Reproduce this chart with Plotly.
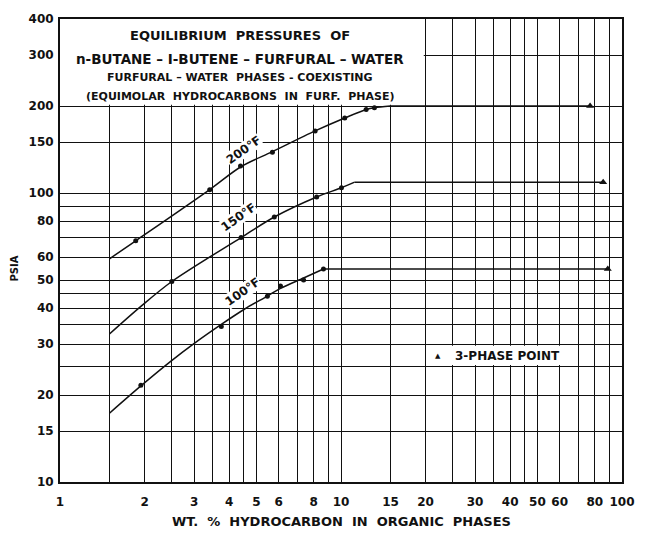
import numpy as np
import plotly.graph_objects as go

# Smoothed equilibrium curves (wt % hydrocarbon, psia), ending at the
# point where the furfural-water curve meets the 3-phase pressure.
curve_200_x = [1.5, 1.86, 3.41, 4.39, 5.70, 8.09, 10.31, 12.29, 13.15, 15.0]
curve_200_y = [59.2, 68.3, 102.7, 123.0, 139.0, 164.0, 181.8, 194.6, 197.4, 200.0]
curve_150_x = [1.5, 1.94, 2.5, 4.41, 5.79, 8.19, 10.04, 11.18]
curve_150_y = [32.5, 40.5, 49.4, 70.1, 82.6, 96.9, 104.3, 109.0]
curve_100_x = [1.5, 1.94, 2.47, 2.98, 3.75, 4.53, 5.47, 6.09, 7.36, 8.66]
curve_100_y = [17.3, 21.5, 26.1, 30.0, 35.1, 39.6, 44.0, 46.8, 50.8, 54.6]

# Measured points
pts_200_x = [1.86, 3.41, 4.39, 5.70, 8.09, 10.31, 12.29, 13.15]
pts_200_y = [68.3, 102.7, 123.9, 138.4, 164.0, 181.8, 194.6, 197.4]
pts_150_x = [2.5, 4.41, 5.79, 8.19, 10.04]
pts_150_y = [49.4, 70.1, 82.6, 96.9, 104.3]
pts_100_x = [1.94, 3.75, 5.47, 6.09, 7.36, 8.66]
pts_100_y = [21.6, 34.5, 43.9, 47.7, 50.0, 54.6]

# 3-phase points (200, 150, 100 °F)
tp_x = [77.0, 85.7, 89.0]
tp_y = [200.0, 109.0, 54.6]

curve_labels = ["200°F", "150°F", "100°F"]
label_x = [4.50, 4.33, 4.45]
label_y = [141, 82.5, 45.5]

x_tickvals = [1, 1.5, 2, 2.5, 3, 3.5, 4, 4.5, 5, 6, 7, 8, 9, 10, 15, 20, 25,
              30, 35, 40, 45, 50, 60, 70, 80, 90, 100]
x_ticktext = ["1", "", "2", "", "3", "", "4", "", "5", "6", "", "8", "", "10",
              "15", "20", "", "30", "", "40", "", "50", "60", "", "80", "", "100"]
y_tickvals = [10, 15, 20, 25, 30, 35, 40, 45, 50, 60, 70, 80, 90, 100, 150,
              200, 300, 400]
y_ticktext = ["10", "15", "20", "", "30", "", "40", "", "50", "60", "", "80",
              "", "100", "150", "200", "300", "400"]

W, H = 647, 533
ML, MR, MT, MB = 60, 18, 17, 51
FONT = "DejaVu Sans"
INK = "#111111"


def px(xp):
    return (xp - ML) / (W - ML - MR)


def py(yp):
    return (H - MB - yp) / (H - MT - MB)


def bold(size):
    return dict(family=FONT, size=size, color=INK, weight="bold")


fig = go.Figure()

curves = [(curve_200_x, curve_200_y, pts_200_x, pts_200_y),
          (curve_150_x, curve_150_y, pts_150_x, pts_150_y),
          (curve_100_x, curve_100_y, pts_100_x, pts_100_y)]
for i, (cx, cy, dx, dy) in enumerate(curves):
    fig.add_trace(go.Scatter(x=cx, y=cy, mode="lines",
                             line=dict(color=INK, width=1.5, shape="spline",
                                       smoothing=0.9),
                             hoverinfo="skip"))
    # flat 3-phase pressure line from the knee to the 3-phase point
    fig.add_trace(go.Scatter(x=[cx[-1], tp_x[i]], y=[cy[-1], tp_y[i]],
                             mode="lines", line=dict(color=INK, width=1.5),
                             hoverinfo="skip"))
    fig.add_trace(go.Scatter(x=dx, y=dy, mode="markers",
                             marker=dict(color=INK, size=5, symbol="circle"),
                             hoverinfo="x+y"))

fig.add_trace(go.Scatter(x=tp_x, y=tp_y, mode="markers",
                         marker=dict(color=INK, size=7, symbol="triangle-up"),
                         hoverinfo="x+y"))

# white panels for the title block and the key
fig.add_shape(type="rect", x0=1, x1=19.7, y0=202, y1=400, layer="between",
              fillcolor="white", line=dict(width=0))
fig.add_shape(type="rect", x0=20.4, x1=69.5, y0=25.4, y1=29.6, layer="between",
              fillcolor="white", line=dict(width=0))

annotations = []
for text, lx, ly in zip(curve_labels, label_x, label_y):
    annotations.append(dict(x=np.log10(lx), y=np.log10(ly), xref="x", yref="y",
                            text=text, showarrow=False, textangle=-35,
                            bgcolor="white", borderpad=0, font=bold(12)))

title_lines = [
    ("EQUILIBRIUM  PRESSURES  OF", 34, 13),
    ("n-BUTANE – I-BUTENE – FURFURAL – WATER", 57, 13.5),
    ("FURFURAL – WATER  PHASES - COEXISTING", 76, 11),
    ("(EQUIMOLAR  HYDROCARBONS  IN  FURF.  PHASE)", 95, 11),
]
for text, yp, size in title_lines:
    annotations.append(dict(x=px(242), y=py(yp), xref="paper", yref="paper",
                            xanchor="center", yanchor="middle",
                            text=text, showarrow=False, font=bold(size)))

annotations.append(dict(x=px(443), y=py(355), xref="paper", yref="paper",
                        xanchor="center", yanchor="middle",
                        text="▲", showarrow=False,
                        font=dict(family=FONT, size=7, color=INK)))
annotations.append(dict(x=px(513), y=py(355), xref="paper", yref="paper",
                        xanchor="center", yanchor="middle",
                        text="3-PHASE POINT", showarrow=False, font=bold(12)))
annotations.append(dict(x=px(345), y=py(522), xref="paper", yref="paper",
                        xanchor="center", yanchor="middle",
                        text="WT.  %  HYDROCARBON  IN  ORGANIC  PHASES",
                        showarrow=False, font=bold(13)))
annotations.append(dict(x=px(14), y=py(268), xref="paper", yref="paper",
                        xanchor="center", yanchor="middle",
                        text="PSIA", showarrow=False, textangle=-90,
                        font=bold(10)))

axis_common = dict(showgrid=True, gridcolor=INK, gridwidth=1.2,
                   showline=True, linecolor=INK, linewidth=2, mirror=True,
                   ticks="", zeroline=False, tickfont=bold(12))

fig.update_layout(
    width=W, height=H,
    margin=dict(l=ML, r=MR, t=MT, b=MB),
    paper_bgcolor="white", plot_bgcolor="white",
    showlegend=False,
    annotations=annotations,
    xaxis=dict(type="log", range=[0, 2], tickmode="array",
               tickvals=x_tickvals, ticktext=x_ticktext,
               ticklabelstandoff=8, **axis_common),
    yaxis=dict(type="log", range=[1, np.log10(400)], tickmode="array",
               tickvals=y_tickvals, ticktext=y_ticktext,
               ticklabelstandoff=2, **axis_common),
)

fig.write_html("out.html")
